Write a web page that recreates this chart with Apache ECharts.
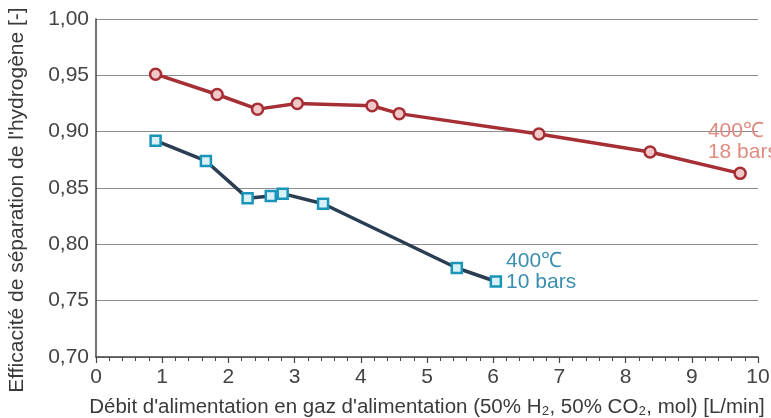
<!DOCTYPE html>
<html>
<head>
<meta charset="utf-8">
<script src="https://cdn.jsdelivr.net/npm/echarts@6/dist/echarts.min.js"></script>
<style>html,body{margin:0;padding:0;background:#fff;}#c{width:771px;height:418px;}</style>
</head>
<body>
<div id="c"></div>
<script>
const redX = [0.90, 1.83, 2.44, 3.04, 4.17, 4.58, 6.69, 8.37, 9.73];
const redY = [0.951, 0.933, 0.920, 0.925, 0.923, 0.916, 0.898, 0.882, 0.863];
const blueX = [0.90, 1.66, 2.29, 2.64, 2.82, 3.43, 5.45, 6.04];
const blueY = [0.892, 0.874, 0.841, 0.843, 0.845, 0.836, 0.779, 0.767];
const redLabel = '400℃\n18 bars';
const blueLabel = '400℃\n10 bars';
const xName = "Débit d'alimentation en gaz d'alimentation (50% H₂, 50% CO₂, mol) [L/min]";
const yName = "Efficacité de séparation de l'hydrogène [-]";

function pts(xs, ys, label, lblOpt) {
  return xs.map((x, i) => {
    const d = { value: [x, ys[i]] };
    if (i === xs.length - 1) {
      d.label = Object.assign({ show: true, formatter: label }, lblOpt);
    }
    return d;
  });
}

const font = 'Liberation Sans, Arial, sans-serif';
const chart = echarts.init(document.getElementById('c'), null, { renderer: 'canvas' });
chart.setOption({
  animation: false,
  backgroundColor: '#fff',
  grid: { left: 96, right: 13, top: 19, bottom: 61, containLabel: false, outerBoundsMode: 'none' },
  xAxis: {
    type: 'value', min: 0, max: 10, interval: 1,
    name: xName, nameLocation: 'middle', nameGap: 40,
    nameTextStyle: { fontFamily: font, fontSize: 20.5, color: '#3a3a3a' },
    axisLine: { show: true, onZero: false, lineStyle: { color: '#444', width: 1.5 } },
    axisTick: { show: true, inside: false, length: 6, lineStyle: { color: '#444', width: 1.2 } },
    minorTick: { show: true, splitNumber: 5, length: 4, lineStyle: { color: '#444', width: 1 } },
    axisLabel: { fontFamily: font, fontSize: 21, color: '#444', margin: 10 },
    splitLine: { show: false }
  },
  yAxis: {
    type: 'value', min: 0.7, max: 1.0, interval: 0.05,
    name: yName, nameLocation: 'middle', nameGap: 68, nameRotate: 90,
    nameTextStyle: { fontFamily: font, fontSize: 21, color: '#3a3a3a', padding: [0, 24, 0, 0] },
    axisLine: { show: true, lineStyle: { color: '#444', width: 1.5 } },
    axisTick: { show: false },
    axisLabel: { fontFamily: font, fontSize: 21, color: '#444', margin: 7,
      formatter: v => v.toFixed(2).replace('.', ',') },
    splitLine: { show: true, lineStyle: { color: '#8c8c8c', width: 1.2 } }
  },
  series: [
    {
      type: 'line', data: pts(redX, redY, redLabel,
        { position: 'right', offset: [-44, -32], color: '#e08a80', fontFamily: font, fontSize: 21, lineHeight: 21, align: 'left' }),
      symbol: 'circle', symbolSize: 11,
      lineStyle: { color: '#a62f36', width: 3.5 },
      itemStyle: { color: '#f0c8c8', borderColor: '#a62f36', borderWidth: 2.5 },
      z: 3
    },
    {
      type: 'line', data: pts(blueX, blueY, blueLabel,
        { position: 'right', offset: [-1, -10], color: '#3a8fb0', fontFamily: font, fontSize: 21, lineHeight: 21, align: 'left' }),
      symbol: 'rect', symbolSize: 10,
      lineStyle: { color: '#2a3d52', width: 3.5 },
      itemStyle: { color: '#d8f0f6', borderColor: '#1a95ba', borderWidth: 2.5 },
      z: 3
    }
  ]
});
</script>
</body>
</html>
